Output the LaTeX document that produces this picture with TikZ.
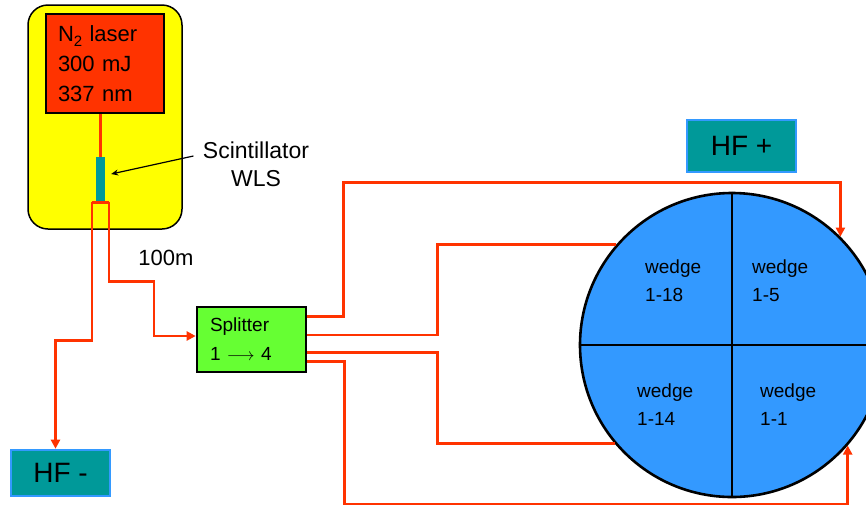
\documentclass[tikz,border=0pt]{standalone}
\usepackage{fontspec}
\setmainfont{Liberation Sans}
\usetikzlibrary{arrows.meta}
\definecolor{fiberred}{HTML}{FF3300}
\definecolor{laserred}{HTML}{FF3300}
\definecolor{boxyellow}{HTML}{FFFF00}
\definecolor{hfteal}{HTML}{009999}
\definecolor{hfblue}{HTML}{3399FF}
\definecolor{splitgreen}{HTML}{66FF33}
\begin{document}
\begin{tikzpicture}[x=1pt,y=-1pt,
  fiber/.style={draw=fiberred,line width=2.8pt},
  box/.style={draw,rectangle,line width=2.6pt,inner sep=0pt},
  hfbox/.style={rectangle,fill=hfteal,draw=hfblue,line width=2.6pt,inner sep=0pt,
    font=\fontsize{28}{32}\selectfont},
  wedgelabel/.style={anchor=west,align=left,inner sep=0pt,font=\fontsize{19}{28}\selectfont},
  >={Triangle[length=9pt,width=9pt]}]
\useasboundingbox (0,0) rectangle (866,504);

% laser station
\node[rectangle,draw,line width=1.5pt,fill=boxyellow,rounded corners=20pt,
  minimum width=154pt,minimum height=224pt] (frame) at (105,117) {};
\node[box,fill=laserred,minimum width=118pt,minimum height=99pt,inner xsep=12pt,
  text width=94pt,align=left,font=\fontsize{22}{30}\selectfont] (laser) at (105,63.5)
  {N\raisebox{-5pt}{\fontsize{15}{15}\selectfont 2} laser\\300 mJ\\337 nm};
\node[rectangle,fill=hfteal,inner sep=0pt,minimum width=9pt,minimum height=45pt] (scint) at (100.5,179.5) {};
\node[align=center,font=\fontsize{23}{28}\selectfont] (sclabel) at (256,164) {Scintillator\\WLS};
\node[font=\fontsize{22}{26}\selectfont] (len) at (166,258) {100m};

% splitter and detectors
\node[box,fill=splitgreen,minimum width=109pt,minimum height=65pt,inner xsep=13pt,
  text width=83pt,align=left,font=\fontsize{19}{29}\selectfont] (split) at (251.5,339.5)
  {Splitter\\1 $\longrightarrow$ 4};
\node[hfbox,minimum width=99pt,minimum height=46pt] (hfminus) at (60.5,473) {HF -};
\node[hfbox,minimum width=109pt,minimum height=52pt] (hfplus) at (741.5,146) {HF +};
\node[circle,draw,line width=2.6pt,fill=hfblue,minimum size=304pt,inner sep=0pt] (disk) at (732,345) {};
\draw[line width=2pt] (disk.north) -- (disk.south);
\draw[line width=2pt] (disk.west) -- (disk.east);
\node[wedgelabel] (w18) at (645,281) {wedge\\1-18};
\node[wedgelabel] (w5) at (752,281) {wedge\\1-5};
\node[wedgelabel] (w14) at (637,405) {wedge\\1-14};
\node[wedgelabel] (w1) at (760,405) {wedge\\1-1};

% fibres
\draw[fiber] (laser.south -| scint.north) -- (scint.north);
\draw[fiber] ([xshift=8.5pt]scint.south) -- ([xshift=-8.5pt]scint.south);
\draw[fiber,->] ([xshift=-8.5pt]scint.south) -- ++(0,138) -| ([xshift=-5pt]hfminus.north);
\draw[fiber,->] ([xshift=8.5pt]scint.south) -- ++(0,79) -- ++(45,0) |- ([yshift=3.5pt]split.west);
\draw[-{Stealth[length=7pt,width=6pt]},line width=1.2pt] ([xshift=-6pt,yshift=8pt]sclabel.west) -- ([xshift=6pt,yshift=5.5pt]scint.east);

\draw[fiber,->] ([yshift=23pt]split.east) -- ++(36,0) |- ([yshift=9pt]disk.north) -| (disk.45);
\draw[fiber] ([yshift=4.5pt]split.east) -- ++(130,0) |- (disk.139);
\draw[fiber] ([yshift=-13pt]split.east) -- ++(130,0) |- (disk.220);
\draw[fiber,->] ([yshift=-22pt]split.east) -- ++(37,0) |- ([yshift=-6pt]disk.south) -| (disk.-41);
\end{tikzpicture}
\end{document}
